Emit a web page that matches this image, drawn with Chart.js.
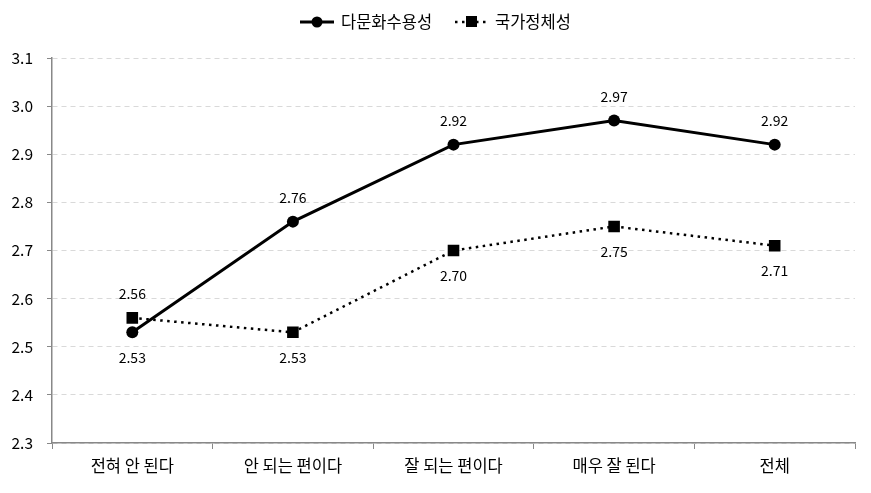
<!DOCTYPE html>
<html>
<head>
<meta charset="utf-8">
<script src="https://cdn.jsdelivr.net/npm/chart.js@4"></script>
<style>
  body { margin: 0; background: #fff; }
  #wrap { width: 871px; height: 493px; }
</style>
</head>
<body>
<div id="wrap"><canvas id="grafico" width="871" height="493"></canvas></div>
<script>
const categorias = ['전혀 안 된다', '안 되는 편이다', '잘 되는 편이다', '매우 잘 된다', '전체'];
const nomeSerieA = '다문화수용성';
const nomeSerieB = '국가정체성';
const valoresA = [2.53, 2.76, 2.92, 2.97, 2.92];
const valoresB = [2.56, 2.53, 2.70, 2.75, 2.71];
const eixoMin = 2.3;
const eixoMax = 3.1;
const eixoPasso = 0.1;

const fonte = "'Noto Sans CJK KR', 'Noto Sans', sans-serif";

// rótulos de valor: a série mais alta em cada ponto fica acima, a outra abaixo
const rotulos = {
  id: 'rotulos',
  afterDatasetsDraw(chart) {
    const ctx = chart.ctx;
    const dados = chart.data.datasets;
    ctx.save();
    ctx.font = '14px ' + fonte;
    ctx.fillStyle = '#000';
    ctx.textAlign = 'center';
    ctx.textBaseline = 'middle';
    dados.forEach((ds, i) => {
      const outro = dados[1 - i];
      chart.getDatasetMeta(i).data.forEach((p, j) => {
        const acima = ds.data[j] >= outro.data[j];
        ctx.fillText(ds.data[j].toFixed(2), p.x, p.y + (acima ? -24 : 25));
      });
    });
    ctx.restore();
  }
};

const legenda = {
  id: 'legenda',
  afterDraw(chart) {
    const ctx = chart.ctx;
    const y = 22;
    ctx.save();
    // série A
    ctx.strokeStyle = '#000';
    ctx.lineWidth = 3;
    ctx.beginPath(); ctx.moveTo(300, y); ctx.lineTo(334, y); ctx.stroke();
    ctx.fillStyle = '#000';
    ctx.beginPath(); ctx.arc(317, y, 5.5, 0, Math.PI * 2); ctx.fill();
    // série B
    ctx.lineWidth = 2.5;
    ctx.setLineDash([2.5, 4.5]);
    ctx.beginPath(); ctx.moveTo(455, y); ctx.lineTo(489, y); ctx.stroke();
    ctx.setLineDash([]);
    ctx.fillRect(466, y - 6, 11, 11);
    ctx.font = '16.5px ' + fonte;
    ctx.textBaseline = 'middle';
    ctx.textAlign = 'left';
    ctx.fillText(nomeSerieA, 341, y);
    ctx.fillText(nomeSerieB, 495, y);
    ctx.restore();
  }
};

new Chart(document.getElementById('grafico'), {
  type: 'line',
  data: {
    labels: categorias,
    datasets: [
      {
        label: nomeSerieA,
        data: valoresA,
        borderColor: '#000',
        backgroundColor: '#000',
        borderWidth: 3,
        pointStyle: 'circle',
        pointRadius: 6,
        pointBorderWidth: 0,
        pointHoverRadius: 6,
        tension: 0
      },
      {
        label: nomeSerieB,
        data: valoresB,
        borderColor: '#000',
        backgroundColor: '#000',
        borderWidth: 2.5,
        borderDash: [2.5, 4.5],
        pointStyle: 'rect',
        pointRadius: 8.2,
        pointBorderWidth: 0,
        pointHoverRadius: 8.2,
        tension: 0
      }
    ]
  },
  options: {
    responsive: false,
    animation: false,
    layout: { padding: { top: 58, right: 16, left: 0, bottom: 0 } },
    plugins: {
      legend: { display: false },
      tooltip: { enabled: false }
    },
    scales: {
      x: {
        offset: true,
        afterFit(scale) { scale.height = 50; },
        grid: {
          offset: true,
          drawOnChartArea: false,
          drawTicks: true,
          tickLength: 6,
          tickColor: '#888'
        },
        border: { color: '#888', width: 1.5 },
        ticks: { color: '#000', padding: 7, font: { family: fonte, size: 16.5 } }
      },
      y: {
        min: eixoMin,
        max: eixoMax,
        afterFit(scale) { scale.width = 52; },
        afterBuildTicks(scale) {
          scale.ticks = [];
          for (let v = eixoMin; v <= eixoMax + 1e-9; v += eixoPasso) {
            scale.ticks.push({ value: Math.round(v * 10) / 10 });
          }
        },
        grid: {
          color: '#d9d9d9',
          tickColor: '#888',
          tickLength: 5,
          drawTicks: true
        },
        border: { color: '#888', width: 1.5, dash: [5, 4] },
        ticks: {
          color: '#000',
          padding: 14,
          font: { family: fonte, size: 15.5 },
          callback: v => v.toFixed(1)
        }
      }
    }
  },
  plugins: [rotulos, legenda]
});
</script>
</body>
</html>
